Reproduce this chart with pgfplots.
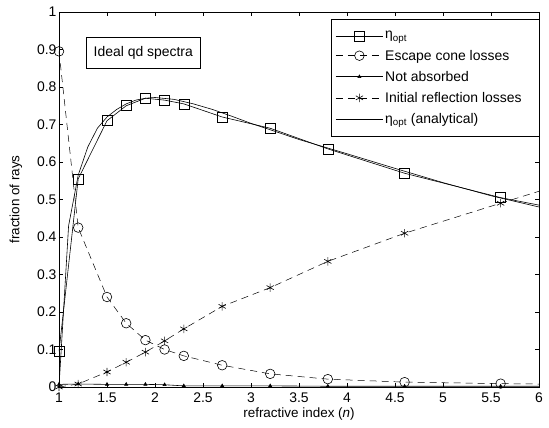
\documentclass[border=0pt]{standalone}
\usepackage{fontspec}
\setmainfont{Liberation Sans}
\usepackage{pgfplots}
\pgfplotsset{compat=1.18}
\begin{document}
\begin{tikzpicture}
\path[use as bounding box] (-59bp,-41bp) rectangle (490bp,387bp);
\begin{axis}[
  at={(0,0)}, anchor=south west,
  scale only axis,
  width=480bp, height=375bp,
  xmin=1, xmax=6, ymin=0, ymax=1,
  xtick={1,1.5,...,6}, ytick={0,0.1,...,1},
  xticklabels={1,1.5,2,2.5,3,3.5,4,4.5,5,5.5,6},
  yticklabels={0,0.1,0.2,0.3,0.4,0.5,0.6,0.7,0.8,0.9,1},
  tick align=inside, tick pos=both,
  major tick length=4bp,
  tick style={black, line width=0.5pt},
  axis line style={line width=0.6pt},
  /pgf/number format/assume math mode=true,
  tick label style={font=\fontsize{14}{16}\selectfont},
  xticklabel style={yshift=-2bp},
  yticklabel style={xshift=1bp},
  xlabel={refractive index (\textit{n})},
  ylabel={fraction of rays},
  label style={font=\fontsize{13.5}{15}\selectfont},
  xlabel style={yshift=1bp},
  ylabel style={yshift=8bp},
  legend cell align=left,
  legend style={at={(1.002,0.981)}, anchor=north east, draw=black, line width=0.6pt,
    font=\fontsize{14}{16}\selectfont, row sep=5.5bp, inner xsep=4bp, inner ysep=10bp},
  legend image code/.code={\draw[mark repeat=2,mark phase=2,#1] plot coordinates {(0cm,0cm) (0.83cm,0cm) (1.66cm,0cm)};},
]
\addplot[black, line width=0.6pt, mark=square, mark size=5bp, mark options={solid, line width=0.6pt}] coordinates {
(1,0.095) (1.2,0.555) (1.5,0.71) (1.7,0.75) (1.9,0.77) (2.1,0.765) (2.3,0.755) (2.7,0.72) (3.2,0.69) (3.8,0.635) (4.6,0.57) (5.6,0.505) (6.6,0.455)};
\addlegendentry{η\textsubscript{opt}}
\addplot[black, line width=0.5pt, dash pattern=on 7bp off 5bp, mark=o, mark size=4.8bp, mark options={solid, line width=0.6pt}] coordinates {
(1,0.895) (1.2,0.425) (1.5,0.24) (1.7,0.17) (1.9,0.125) (2.1,0.10) (2.3,0.083) (2.7,0.058) (3.2,0.035) (3.8,0.021) (4.6,0.013) (5.6,0.009) (6.6,0.006)};
\addlegendentry{Escape cone losses}
\addplot[black, line width=0.6pt, mark=triangle*, mark size=1.8bp, mark options={solid}] coordinates {
(1,0.007) (1.2,0.008) (1.5,0.007) (1.7,0.007) (1.9,0.007) (2.1,0.006) (2.3,0.003) (2.7,0.003) (3.2,0.003) (3.8,0.002) (4.6,0.002) (5.6,0.002) (6.6,0.002)};
\addlegendentry{Not absorbed}
\addplot[black, line width=0.5pt, dash pattern=on 7bp off 5bp, mark=asterisk, mark size=4.2bp, mark options={solid, line width=0.6pt}] coordinates {
(1,0.0) (1.2,0.008) (1.5,0.04) (1.7,0.066) (1.9,0.093) (2.1,0.123) (2.3,0.155) (2.7,0.215) (3.2,0.265) (3.8,0.335) (4.6,0.41) (5.6,0.49) (6.6,0.57)};
\addlegendentry{Initial reflection losses\hspace*{12bp}}
\addplot[black, line width=0.6pt, no marks] coordinates {
(1,0) (1.1,0.43) (1.2,0.565) (1.3,0.64) (1.4,0.69) (1.5,0.72) (1.6,0.74) (1.7,0.755) (1.8,0.765) (1.9,0.77) (2.0,0.772) (2.2,0.767) (2.4,0.755) (2.6,0.74) (2.8,0.722) (3.0,0.703) (3.2,0.686) (3.5,0.66) (4.0,0.622) (4.5,0.583) (5.0,0.545) (5.5,0.51) (6.0,0.48)};
\addlegendentry{η\textsubscript{opt} (analytical)}
\node[draw=black, line width=0.6pt, anchor=north west, minimum width=114bp, minimum height=31bp, inner xsep=7bp, font=\fontsize{14}{16}\selectfont] at (axis cs:1.281,0.933) {Ideal qd spectra};
\end{axis}
\end{tikzpicture}
\end{document}
